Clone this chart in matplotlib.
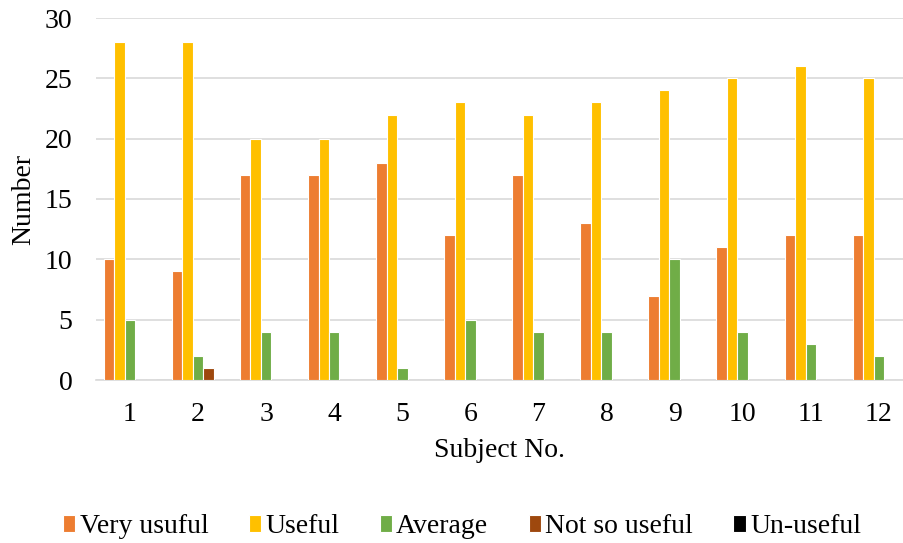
import numpy as np
import matplotlib.pyplot as plt

plt.rcParams['font.family'] = ['Liberation Serif', 'DejaVu Serif']

subjects = [str(i) for i in range(1, 13)]
very_usuful = [10, 9, 17, 17, 18, 12, 17, 13, 7, 11, 12, 12]
useful = [28, 28, 20, 20, 22, 23, 22, 23, 24, 25, 26, 25]
average = [5, 2, 4, 4, 1, 5, 4, 4, 10, 4, 3, 2]
not_so_useful = [0, 1, 0, 0, 0, 0, 0, 0, 0, 0, 0, 0]
un_useful = [0, 0, 0, 0, 0, 0, 0, 0, 0, 0, 0, 0]

series = [
    ('Very usuful', very_usuful, '#ED7D31'),
    ('Useful', useful, '#FFC000'),
    ('Average', average, '#70AD47'),
    ('Not so useful', not_so_useful, '#9E480E'),
    ('Un-useful', un_useful, '#000000'),
]

fig = plt.figure(figsize=(9.04, 5.43), dpi=100)
ax = fig.add_axes([96 / 904, 1 - 380 / 543, 808 / 904, 362 / 543])

x = np.arange(1, 13)
w = 0.154
for i, (name, vals, col) in enumerate(series):
    ax.bar(x + (i - 2) * w, vals, width=w, color=col, edgecolor='white',
           linewidth=0.8, label=name, zorder=3)

ax.set_xlim(0.5, 12.37)
ax.set_ylim(0, 30)
ax.set_yticks(range(0, 31, 5))
ax.set_xticks(x)
ax.set_xticklabels(subjects)
ax.grid(axis='y', color='#D9D9D9', linewidth=1.2, zorder=0)
for s in ['top', 'right', 'left']:
    ax.spines[s].set_visible(False)
ax.spines['bottom'].set_color('#D9D9D9')
ax.spines['bottom'].set_linewidth(1.2)
ax.tick_params(length=0, labelsize=20)
ax.tick_params(axis='x', pad=16)
ax.tick_params(axis='y', pad=17)
ax.set_xlabel('Subject No.', fontsize=20, labelpad=8)
ax.set_ylabel('Number', fontsize=20, labelpad=6)

fig.legend(loc='center', bbox_to_anchor=(0.511, 0.03), ncol=5,
           frameon=False, fontsize=20, handlelength=0.45, handleheight=0.55,
           handletextpad=0.15, columnspacing=1.45)

fig.savefig('out.png', dpi=100)
